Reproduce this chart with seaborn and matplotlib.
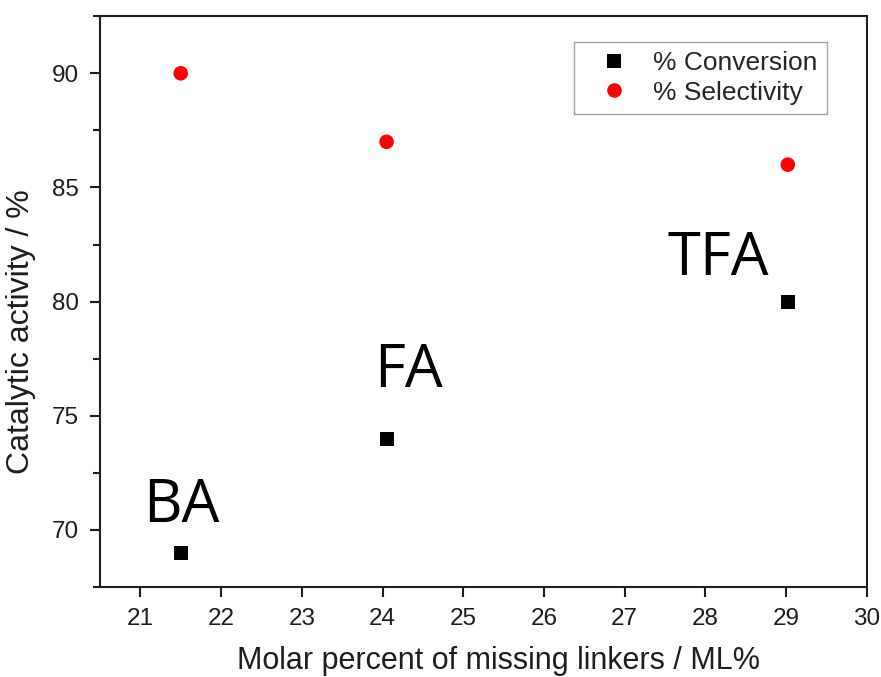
import matplotlib
matplotlib.use("Agg")
import matplotlib.pyplot as plt
from matplotlib.ticker import MultipleLocator
import pandas as pd
import seaborn as sns

# Data
samples = ["BA", "FA", "TFA"]
missing_linkers = [21.5, 24.05, 29.02]
conversion = [69, 74, 80]
selectivity = [90, 87, 86]

# label anchor (left, baseline) for each modulator name, in data units
label_x = [21.03, 23.90, 27.53]
label_y = [70.35, 76.26, 81.16]

df = pd.DataFrame({
    "ML": missing_linkers * 2,
    "value": conversion + selectivity,
    "series": ["% Conversion"] * 3 + ["% Selectivity"] * 3,
})

sns.set_theme(style="ticks")
plt.rcParams["font.family"] = ["Liberation Sans", "DejaVu Sans"]

fig = plt.figure(figsize=(8.81, 6.77), dpi=100)
ax = fig.add_axes([0.1135, 0.133, 0.8705, 0.843])

sns.scatterplot(
    data=df, x="ML", y="value", hue="series", style="series", size="series",
    palette={"% Conversion": "black", "% Selectivity": "#ff0000"},
    markers={"% Conversion": "s", "% Selectivity": "o"},
    sizes={"% Conversion": 100, "% Selectivity": 110},
    linewidth=0, ax=ax,
)

for name, lx, ly in zip(samples, label_x, label_y):
    ax.text(lx, ly, name, ha="left", va="baseline", fontsize=43,
            family=["Open Sans", "DejaVu Sans"], color="black")

ax.set_xlim(20.5, 30)
ax.set_ylim(67.5, 92.5)
ax.xaxis.set_major_locator(MultipleLocator(1))
ax.yaxis.set_major_locator(MultipleLocator(5))
ax.yaxis.set_minor_locator(MultipleLocator(2.5))

ink = "#1e1e1e"
for sp in ax.spines.values():
    sp.set_linewidth(1.5)
    sp.set_color(ink)
ax.tick_params(axis="both", which="major", length=7, width=1.5,
               labelsize=17.5, colors=ink, pad=8)
ax.tick_params(axis="y", which="minor", length=5, width=1.5, colors=ink)
ax.tick_params(axis="x", which="minor", length=0)

ax.set_xlabel("Molar percent of missing linkers / ML%", fontsize=22,
              color=ink)
ax.set_ylabel("Catalytic activity / %", fontsize=23, color=ink)
ax.xaxis.set_label_coords(0.52, -0.104)
ax.yaxis.set_label_coords(-0.083, 0.447)

leg = ax.legend(loc="upper right", bbox_to_anchor=(0.948, 0.9545),
                borderaxespad=0, fontsize=19, frameon=True, fancybox=False,
                edgecolor="#8a8a8a", borderpad=0.35, handlelength=2.3,
                handletextpad=0.35, labelspacing=0.2, markerscale=1.0)
leg.get_frame().set_linewidth(1.0)
leg.set_title(None)

fig.savefig("out.png", dpi=100)
